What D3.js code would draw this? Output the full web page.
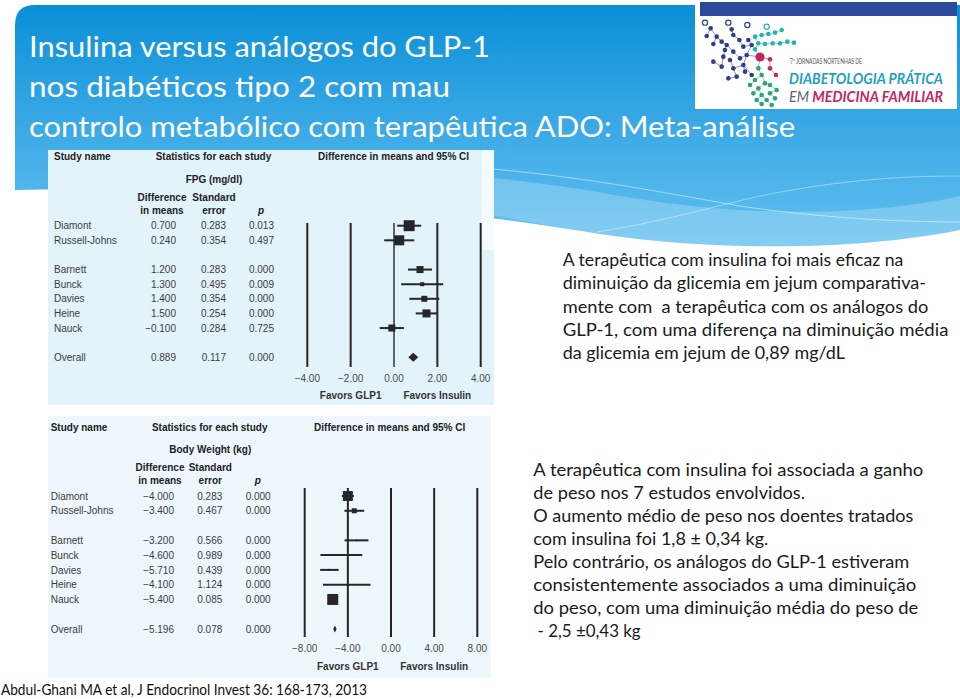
<!DOCTYPE html>
<html><head><meta charset="utf-8">
<script src="https://cdn.jsdelivr.net/npm/d3@7"></script>
<style>body{margin:0;background:#fff;overflow:hidden}svg{display:block}</style>
</head><body>
<svg id="c" width="960" height="699"></svg>
<script>
// ---------------- DATA ----------------
const studies = ["Diamont","Russell-Johns","Barnett","Bunck","Davies","Heine","Nauck"];
const studyGroup = [0,0,1,1,1,1,1];

const fpgDiff   = [0.700, 0.240, 1.200, 1.300, 1.400, 1.500, -0.100];
const fpgSE     = [0.283, 0.354, 0.283, 0.495, 0.354, 0.254, 0.284];
const fpgP      = ["0.013","0.497","0.000","0.009","0.000","0.000","0.725"];
const fpgWeight = [27.8, 23.0, 11.3, 3.7, 8.3, 14.7, 11.3];
const fpgOverall = [0.889, 0.117, "0.000"];
const fpgTicks  = [-4, -2, 0, 2, 4];

const bwDiff   = [-4.000, -3.400, -3.200, -4.600, -5.710, -4.100, -5.400];
const bwSE     = [0.283, 0.467, 0.566, 0.989, 0.439, 1.124, 0.085];
const bwP      = ["0.000","0.000","0.000","0.000","0.000","0.000","0.000"];
const bwWeight = [39.2, 9.8, 1.2, 0.4, 1.6, 0.4, 47.5];
const bwOverall = [-5.196, 0.078, "0.000"];
const bwTicks  = [-8, -4, 0, 4, 8];

const titleLines = ["Insulina versus análogos do GLP-1","nos diabéticos tipo 2 com mau","controlo metabólico com terapêutica ADO: Meta-análise"];
const text1 = ["A terapêutica com insulina foi mais eficaz na","diminuição da glicemia em jejum comparativa-","mente com  a terapêutica com os análogos do","GLP-1, com uma diferença na diminuição média","da glicemia em jejum de 0,89 mg/dL"];
const text2 = ["A terapêutica com insulina foi associada a ganho","de peso nos 7 estudos envolvidos.","O aumento médio de peso nos doentes tratados","com insulina foi 1,8 ± 0,34 kg.","Pelo contrário, os análogos do GLP-1 estiveram","consistentemente associados a uma diminuição","do peso, com uma diminuição média do peso de"," - 2,5 ±0,43 kg"];
const sourceText = "Abdul-Ghani MA et al, J Endocrinol Invest 36: 168-173, 2013";

// ---------------- HELPERS ----------------
const svg = d3.select("#c");
const defs = svg.append("defs");
function fit(sel, w){
  const n = sel.node().getComputedTextLength();
  if (Math.abs(n - w) > 0.5) sel.attr("textLength", w).attr("lengthAdjust","spacingAndGlyphs");
  return sel;
}
const fmt3 = v => (v < 0 ? "\u2212" : "") + Math.abs(v).toFixed(3);
const fmt2 = v => (v < 0 ? "\u2212" : "") + Math.abs(v).toFixed(2);

// ---------------- HEADER ----------------
const gr = defs.append("linearGradient").attr("id","hdr").attr("x1",0).attr("y1",0).attr("x2",0).attr("y2",1);
gr.append("stop").attr("offset","0%").attr("stop-color","#0a8fd7");
gr.append("stop").attr("offset","60%").attr("stop-color","#43aee8");
gr.append("stop").attr("offset","100%").attr("stop-color","#62bfef");
svg.append("path").attr("fill","url(#hdr)")
  .attr("d","M15,25 Q15,5 35,5 L960,5 L960,230 C860,250 720,252 600,234 C450,210 250,186 15,190 Z");
svg.append("path").attr("fill","#ffffff").attr("opacity",0.22)
  .attr("d","M300,172 C420,168 520,178 620,196 C760,220 880,214 960,196 L960,230 C860,250 720,252 600,234 C450,210 380,190 300,182 Z");
svg.append("path").attr("fill","none").attr("stroke","#ffffff").attr("stroke-opacity",0.6).attr("stroke-width",0.8)
  .attr("d","M480,168 C580,176 660,192 740,206 C820,218 900,222 960,222");
svg.append("path").attr("fill","none").attr("stroke","#ffffff").attr("stroke-opacity",0.5).attr("stroke-width",0.8)
  .attr("d","M597,232 C660,222 700,210 760,196 C840,180 900,176 960,176");

// Title
const titleG = svg.append("g");
const titleW = [461, 421, 766];
titleLines.forEach((t,i)=>{
  const s = titleG.append("text").attr("x",29).attr("y",57 + i*40)
    .attr("font-family","Lato, 'Open Sans', sans-serif").attr("font-size",28).attr("font-weight",400)
    .attr("fill","#ffffff").text(t);
  fit(s, titleW[i]);
});

// ---------------- LOGO ----------------
const logo = svg.append("g");
logo.append("rect").attr("x",695).attr("y",2).attr("width",262).attr("height",107).attr("fill","#ffffff");
logo.append("rect").attr("x",700).attr("y",2).attr("width",257).attr("height",14).attr("fill","#2b4a9b");
const hub = [760, 57];
const navyPts = [[62,85],[50,108],[80,110],[95,125],[70,132],[110,135],[130,105],[125,88],[148,120],[105,150],[130,155],[160,140],[175,120],[185,135],[100,170],[70,185],[120,180],[150,175],[170,165],[95,200],[130,205],[160,195],[115,235],[140,230],[165,215],[185,225]];
const tealPts = [[195,110],[215,105],[235,102],[255,98],[275,90],[205,130],[225,132],[248,130],[270,130],[292,125],[312,128],[195,148]];
const magPts = [[240,178],[240,205],[258,225]];
const greenPts = [[205,205],[215,225],[195,240],[225,250],[180,255],[205,265],[240,255],[190,280],[215,285],[240,280],[260,270],[200,300],[230,300],[255,295],[245,315],[215,312]];
const rings = [[45,68,"#2c3e8c"],[115,68,"#2c3e8c"],[172,75,"#2c3e8c"],[230,80,"#28b0b5"]];
const toPx = p => [p[0]/3 + 690, p[1]/3];
function drawCluster(pts, color){
  const P = pts.map(toPx);
  const d2 = (a,b)=> (a[0]-b[0])**2 + (a[1]-b[1])**2;
  P.forEach(p=>{
    const dh = d2(p,hub);
    let best = hub, bd = dh;
    P.forEach(q=>{ if (q!==p && d2(q,hub) < dh){ const dd = d2(p,q); if (dd < bd){ bd = dd; best = q; } } });
    logo.append("line").attr("x1",p[0]).attr("y1",p[1]).attr("x2",best[0]).attr("y2",best[1])
      .attr("stroke",color).attr("stroke-width",0.7).attr("stroke-opacity",0.8);
  });
  P.forEach(p=> logo.append("circle").attr("cx",p[0]).attr("cy",p[1]).attr("r",2.3).attr("fill",color));
}
drawCluster(navyPts,"#2c3e8c");
drawCluster(tealPts,"#28b0b5");
drawCluster(greenPts,"#2aa57a");
drawCluster(magPts,"#c4275f");
rings.forEach(r=>{
  const p = toPx(r);
  logo.append("circle").attr("cx",p[0]).attr("cy",p[1]).attr("r",2.6).attr("fill","#fff").attr("stroke",r[2]).attr("stroke-width",1.2);
});
logo.append("circle").attr("cx",hub[0]).attr("cy",hub[1]).attr("r",4.6).attr("fill","#c4275f");
fit(logo.append("text").attr("x",790).attr("y",64).attr("font-family","Lato, sans-serif").attr("font-size",7)
  .attr("fill","#555").text("7ª JORNADAS NORTENHAS DE"), 72);
fit(logo.append("text").attr("x",789).attr("y",84).attr("font-family","Lato, sans-serif").attr("font-size",14.5)
  .attr("font-style","italic").attr("font-weight",700).attr("fill","#1f9fc2").text("DIABETOLOGIA PRÁTICA"), 154);
const em = logo.append("text").attr("x",789).attr("y",102).attr("font-family","Lato, sans-serif").attr("font-size",14.5)
  .attr("font-style","italic");
em.append("tspan").attr("fill","#666").attr("font-weight",400).text("EM ");
em.append("tspan").attr("fill","#c4275f").attr("font-weight",700).text("MEDICINA FAMILIAR");
fit(em, 154);

// ---------------- FOREST PLOTS ----------------
function forest(cfg){
  const g = svg.append("g");
  g.append("rect").attr("x",cfg.panel[0]).attr("y",cfg.panel[1]).attr("width",cfg.panel[2]).attr("height",cfg.panel[3]).attr("fill",cfg.bg);
  const x = d3.scaleLinear().domain(d3.extent(cfg.ticks)).range(cfg.xRange);
  const y = d3.scaleLinear().domain([0,1]).range([cfg.rowY0, cfg.rowY0 + cfg.rowStep]);
  const side = d3.scaleSqrt().domain([0, d3.max(cfg.weight)]).range([0, cfg.maxSide]);
  const font = "'Liberation Sans', Arial, sans-serif";
  const txt = (xx, yy, t, o={}) => g.append("text").attr("x",xx).attr("y",yy)
      .attr("font-family",font).attr("font-size",o.size||10)
      .attr("font-weight",o.bold?700:400).attr("font-style",o.italic?"italic":"normal")
      .attr("text-anchor",o.anchor||"start").attr("fill",o.fill||"#3c3c3c").text(t);
  const r0 = cfg.rowY0;
  // headers
  txt(cfg.nameX, r0-65.5, "Study name", {bold:true, fill:"#222"});
  txt(cfg.statsC, r0-65.5, "Statistics for each study", {bold:true, anchor:"middle", fill:"#222"});
  txt(cfg.ciC, r0-65.5, "Difference in means and 95% CI", {bold:true, anchor:"middle", fill:"#222"});
  txt(cfg.seR-12, r0-43, cfg.title, {bold:true, anchor:"middle", fill:"#222"});
  txt(cfg.diffR-14, r0-25.2, "Difference", {bold:true, anchor:"middle", fill:"#222"});
  txt(cfg.diffR-14, r0-12.2, "in means", {bold:true, anchor:"middle", fill:"#222"});
  txt(cfg.seR-12, r0-25.2, "Standard", {bold:true, anchor:"middle", fill:"#222"});
  txt(cfg.seR-12, r0-12.2, "error", {bold:true, anchor:"middle", fill:"#222"});
  txt(cfg.pR-13, r0-12.2, "p", {bold:true, italic:true, anchor:"middle", fill:"#222"});
  // grid lines
  g.selectAll("line.v").data(cfg.ticks).join("line").attr("class","v")
    .attr("x1",d=>x(d)).attr("x2",d=>x(d)).attr("y1",cfg.lineTop).attr("y2",cfg.lineBot)
    .attr("stroke","#262626").attr("stroke-width",d=>d===0 ? cfg.zeroW : 2);
  // tick labels
  cfg.ticks.forEach(t=> txt(x(t), cfg.tickY, fmt2(t), {anchor:"middle", fill:"#4a4a4a"}));
  txt(x(cfg.ticks[1]), cfg.favY, "Favors GLP1", {bold:true, anchor:"middle", fill:"#333"});
  txt(x(cfg.ticks[3]), cfg.favY, "Favors Insulin", {bold:true, anchor:"middle", fill:"#333"});
  // rows
  cfg.names.forEach((nm,i)=>{
    const row = i + studyGroup[i];
    const cy = y(row);
    txt(cfg.nameX, cy+3.6, nm);
    txt(cfg.diffR, cy+3.6, fmt3(cfg.diff[i]), {anchor:"end"});
    txt(cfg.seR, cy+3.6, cfg.se[i].toFixed(3), {anchor:"end"});
    txt(cfg.pR, cy+3.6, cfg.p[i], {anchor:"end"});
    const lo = cfg.diff[i] - 1.96*cfg.se[i], hi = cfg.diff[i] + 1.96*cfg.se[i];
    g.append("line").attr("x1",x(lo)).attr("x2",x(hi)).attr("y1",cy).attr("y2",cy)
      .attr("stroke","#262626").attr("stroke-width",2);
    const s = Math.max(side(cfg.weight[i]), 1.5);
    g.append("rect").attr("x",x(cfg.diff[i])-s/2).attr("y",cy-s/2).attr("width",s).attr("height",s).attr("fill","#262626");
  });
  // overall
  const oRow = cfg.names.length + d3.max(studyGroup) + 1;
  const oy = y(oRow);
  txt(cfg.nameX, oy+3.6, "Overall");
  txt(cfg.diffR, oy+3.6, fmt3(cfg.overall[0]), {anchor:"end"});
  txt(cfg.seR, oy+3.6, cfg.overall[1].toFixed(3), {anchor:"end"});
  txt(cfg.pR, oy+3.6, cfg.overall[2], {anchor:"end"});
  const olo = x(cfg.overall[0] - 1.96*cfg.overall[1]), ohi = x(cfg.overall[0] + 1.96*cfg.overall[1]);
  const oc = x(cfg.overall[0]), hh = cfg.diamondH/2;
  g.append("path").attr("d",`M${olo},${oy} L${oc},${oy-hh} L${ohi},${oy} L${oc},${oy+hh} Z`).attr("fill","#262626");
  return g;
}

forest({
  panel:[48,150,446,255], bg:"#e3f3fa", title:"FPG (mg/dl)",
  names:studies, diff:fpgDiff, se:fpgSE, p:fpgP, weight:fpgWeight, overall:fpgOverall, ticks:fpgTicks,
  rowY0:225.7, rowStep:14.62, nameX:54, diffR:176, seR:226, pR:274, statsC:213.5, ciC:393.5,
  xRange:[307.3,480.7], lineTop:223, lineBot:367, tickY:382, favY:399, diamondH:9, maxSide:11, zeroW:1.4
});
svg.append("rect").attr("x",482).attr("y",150).attr("width",12).attr("height",100).attr("fill","#f4fbfe");

forest({
  panel:[48,416,443,262], bg:"#edf7fc", title:"Body Weight (kg)",
  names:studies, diff:bwDiff, se:bwSE, p:bwP, weight:bwWeight, overall:bwOverall, ticks:bwTicks,
  rowY0:496, rowStep:14.78, nameX:50.7, diffR:174, seR:222.3, pR:270.7, statsC:209.7, ciC:389.7,
  xRange:[304.7,477.3], lineTop:488, lineBot:637, tickY:651.5, favY:669.5, diamondH:7, maxSide:11, zeroW:2
});

// ---------------- SIDE TEXT ----------------
const sideFont = "Lato, 'Open Sans', sans-serif";
const w1 = [340.7, 363.3, 365.7, 385.7, 282.3];
text1.forEach((t,i)=>{
  fit(svg.append("text").attr("x",562.7).attr("y",266 + i*23.33).attr("font-family",sideFont)
    .attr("font-size",17.5).attr("fill","#1a1a1a").style("white-space","pre").text(t), w1[i]);
});
const w2 = [390, 271.7, 380, 235, 376, 383, 385, 107.3];
text2.forEach((t,i)=>{
  fit(svg.append("text").attr("x",533.3).attr("y",476 + i*22.95).attr("font-family",sideFont)
    .attr("font-size",17.5).attr("fill","#1a1a1a").style("white-space","pre").text(t), w2[i]);
});

// ---------------- SOURCE ----------------
fit(svg.append("text").attr("x",1).attr("y",695).attr("font-family",sideFont).attr("font-size",15)
  .attr("fill","#111").text(sourceText), 366);
</script>
</body></html>
